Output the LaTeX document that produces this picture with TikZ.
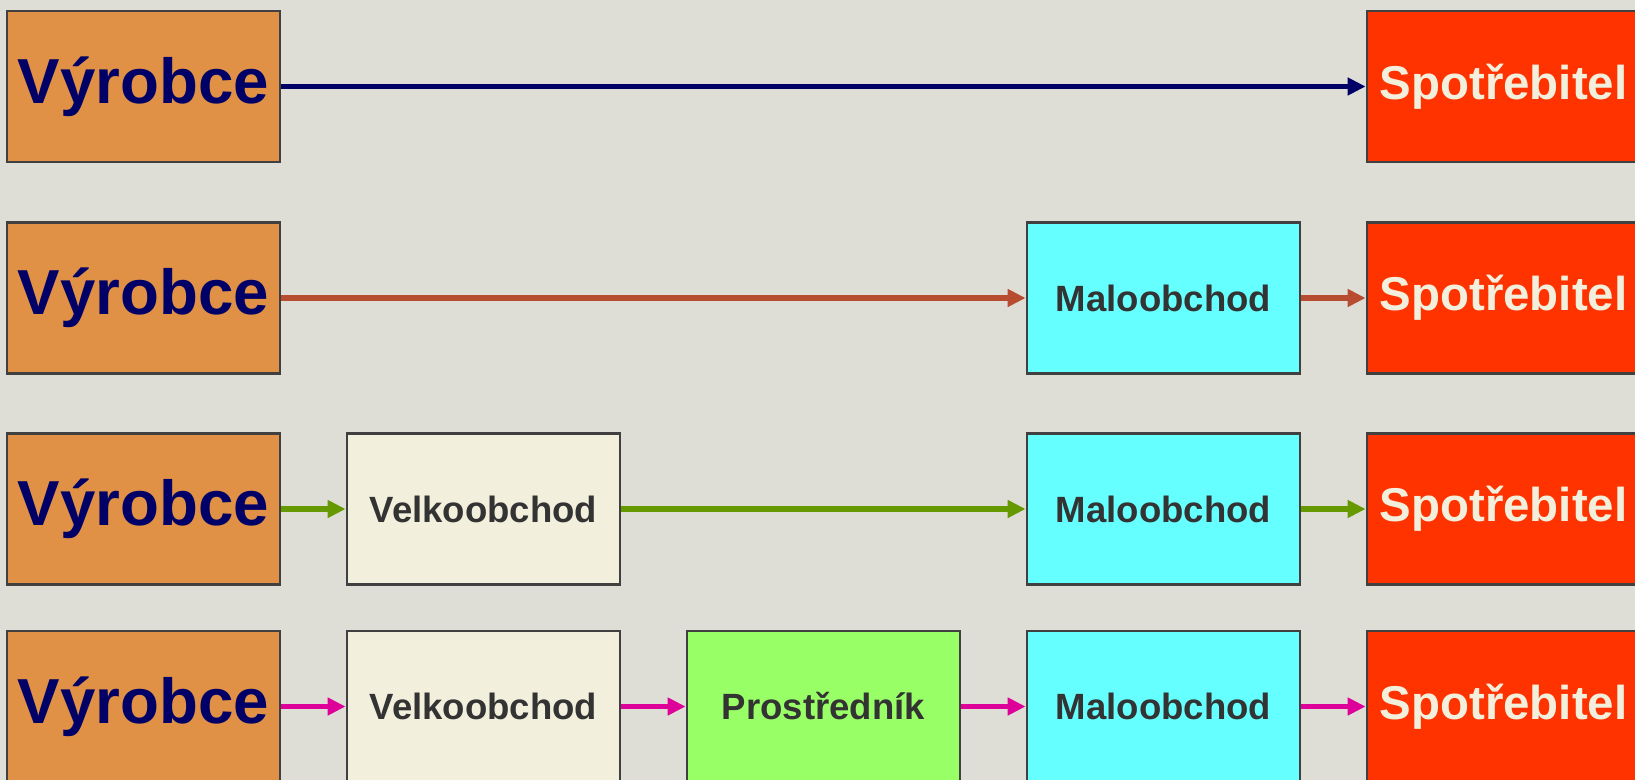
\documentclass[tikz,border=0pt]{standalone}
\usepackage{fontspec}
\setmainfont{Liberation Sans}
\usepackage{tikz}
\usetikzlibrary{arrows.meta, positioning}
\definecolor{paper}{RGB}{222,222,214}
\definecolor{boxline}{RGB}{64,64,64}
\definecolor{darktext}{RGB}{51,51,51}
\definecolor{navytext}{RGB}{0,0,102}
\definecolor{creamtext}{RGB}{242,240,220}
\definecolor{producerfill}{RGB}{224,145,69}
\definecolor{consumerfill}{RGB}{255,51,0}
\definecolor{retailfill}{RGB}{102,255,255}
\definecolor{wholesalefill}{RGB}{242,240,220}
\definecolor{agentfill}{RGB}{153,255,102}
\definecolor{navyline}{RGB}{0,0,102}
\definecolor{rustline}{RGB}{184,76,48}
\definecolor{greenline}{RGB}{102,153,0}
\definecolor{pinkline}{RGB}{221,0,153}
\tikzstyle{box} = [rectangle, minimum width=2.73cm, minimum height=1.51cm, text centered, draw=boxline, line width=0.8pt, inner sep=0pt, text=darktext, font=\bfseries\fontsize{10.4}{12}\selectfont]
\tikzstyle{producer} = [box, fill=producerfill, text=navytext, font=\bfseries\fontsize{18.1}{20}\selectfont]
\tikzstyle{consumer} = [box, fill=consumerfill, text=creamtext, font=\bfseries\fontsize{13.5}{15}\selectfont]
\tikzstyle{retail} = [box, fill=retailfill]
\tikzstyle{wholesale} = [box, fill=wholesalefill]
\tikzstyle{agent} = [box, fill=agentfill]
\tikzstyle{line} = [draw, line width=1.7pt, -{Triangle[length=1.8mm,width=1.7mm]}]

\begin{document}
\begin{tikzpicture}[node distance = 3.4cm]
	\useasboundingbox (0,0) rectangle (16.35,-7.8);
	\clip (0,0) rectangle (16.35,-7.8);
	\fill[paper] (0,0) rectangle (16.35,-7.8);

	% Row 1
	\node(v1) [producer] at (1.435,-0.865) {Výrobce};
	\node(s1) [consumer, right of=v1, node distance=13.6cm] {Spotřebitel};

	% Row 2
	\node(v2) [producer] at (1.435,-2.98) {Výrobce};
	\node(m2) [retail, right of=v2, node distance=10.2cm] {Maloobchod};
	\node(s2) [consumer, right of=m2] {Spotřebitel};

	% Row 3
	\node(v3) [producer] at (1.435,-5.09) {Výrobce};
	\node(w3) [wholesale, right of=v3] {Velkoobchod};
	\node(m3) [retail, right of=w3, node distance=6.8cm] {Maloobchod};
	\node(s3) [consumer, right of=m3] {Spotřebitel};

	% Row 4
	\node(v4) [producer] at (1.435,-7.065) {Výrobce};
	\node(w4) [wholesale, right of=v4] {Velkoobchod};
	\node(p4) [agent, right of=w4] {Prostředník};
	\node(m4) [retail, right of=p4] {Maloobchod};
	\node(s4) [consumer, right of=m4] {Spotřebitel};

	% Draw edges
	\path [line, draw=navyline] (v1) -- (s1);
	\path [line, draw=rustline] (v2) -- (m2);
	\path [line, draw=rustline] (m2) -- (s2);
	\path [line, draw=greenline] (v3) -- (w3);
	\path [line, draw=greenline] (w3) -- (m3);
	\path [line, draw=greenline] (m3) -- (s3);
	\path [line, draw=pinkline] (v4) -- (w4);
	\path [line, draw=pinkline] (w4) -- (p4);
	\path [line, draw=pinkline] (p4) -- (m4);
	\path [line, draw=pinkline] (m4) -- (s4);
\end{tikzpicture}
\end{document}
